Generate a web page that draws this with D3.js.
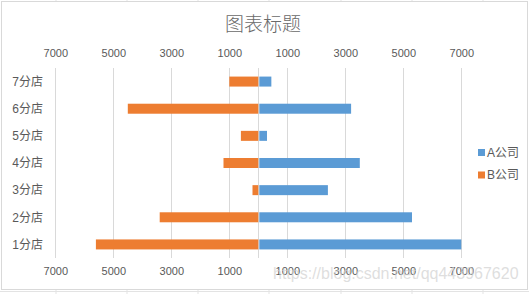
<!DOCTYPE html>
<html>
<head>
<meta charset="utf-8">
<script src="https://cdn.jsdelivr.net/npm/d3@7"></script>
<style>
  html, body { margin: 0; padding: 0; background: #fff; }
  svg { display: block; font-family: "Liberation Sans", "Noto Sans CJK SC", sans-serif; }
</style>
</head>
<body>
<script>
"use strict"

const stores = ['1分店', '2分店', '3分店', '4分店', '5分店', '6分店', '7分店']
const companyA = [7000, 5300, 2400, 3500, 300, 3200, 450]
const companyB = [5600, 3400, 200, 1200, 600, 4500, 1000]
const seriesNames = ['A公司', 'B公司']
const tickVals = [-7000, -5000, -3000, -1000, 1000, 3000, 5000, 7000]
const title = '图表标题'

const w = 529, h = 294
const colA = '#5b9bd5', colB = '#ed7d31'
const txt = '#595959'

const svg = d3.select('body')
   .append('svg')
      .attr('width', w)
      .attr('height', h)

// spreadsheet cell lines behind the chart
;[56, 127, 198, 269, 341, 412, 483].forEach(x => {
   svg.append('line').attr('x1', x).attr('x2', x).attr('y1', 0).attr('y2', h)
      .attr('stroke', '#e3e3e3')
})
svg.append('line').attr('x1', 0).attr('x2', w).attr('y1', 291.5).attr('y2', 291.5).attr('stroke', '#e3e3e3')

// chart area
svg.append('rect')
   .attr('x', 1.5).attr('y', 1.5)
   .attr('width', 526).attr('height', 288)
   .attr('fill', '#fff')
   .attr('stroke', '#d9d9d9')

svg.append('text')
   .attr('x', 263).attr('y', 31)
   .attr('text-anchor', 'middle')
   .attr('font-size', 19)
   .attr('font-weight', 300)
   .attr('fill', '#6a6a6a')
   .text(title)

const x = d3.scaleLinear([-7000, 7000], [55.3, 461.3])
const y = d3.scaleBand(stores.slice().reverse(), [68, 258])
const barH = 10

// gridlines incl. zero line
svg.append('g')
   .selectAll('line')
   .data(tickVals.concat([0]))
   .join('line')
      .attr('x1', d => Math.round(x(d)) + 0.5)
      .attr('x2', d => Math.round(x(d)) + 0.5)
      .attr('y1', 68)
      .attr('y2', 258)
      .attr('stroke', '#d9d9d9')

const fmt = d => Math.abs(d)

const topAxis = svg.append('g')
   .attr('transform', 'translate(0, 57)')
   .call(d3.axisTop(x).tickValues(tickVals).tickFormat(fmt).tickSize(0).tickPadding(0))
const botAxis = svg.append('g')
   .attr('transform', 'translate(0, 267)')
   .call(d3.axisBottom(x).tickValues(tickVals).tickFormat(fmt).tickSize(0).tickPadding(0))
;[topAxis, botAxis].forEach(g => {
   g.select('.domain').remove()
   g.selectAll('text').attr('font-size', 11).attr('fill', txt)
      .attr('font-family', '"Liberation Sans", sans-serif')
})

// category labels
svg.append('g')
   .selectAll('text')
   .data(stores)
   .join('text')
      .attr('x', 43)
      .attr('y', d => y(d) + y.bandwidth() / 2)
      .attr('dy', '0.36em')
      .attr('text-anchor', 'end')
      .attr('font-size', 12)
      .attr('fill', txt)
      .text(d => d)

// bars
svg.append('g')
   .selectAll('rect')
   .data(stores)
   .join('rect')
      .attr('x', (d, i) => x(-companyB[i]))
      .attr('width', (d, i) => x(0) - x(-companyB[i]))
      .attr('y', d => y(d) + (y.bandwidth() - barH) / 2)
      .attr('height', barH)
      .attr('fill', colB)

svg.append('g')
   .selectAll('rect')
   .data(stores)
   .join('rect')
      .attr('x', x(0) + 1)
      .attr('width', (d, i) => x(companyA[i]) - x(0) - 1)
      .attr('y', d => y(d) + (y.bandwidth() - barH) / 2)
      .attr('height', barH)
      .attr('fill', colA)

// legend
const legend = svg.append('g')
   .selectAll('g')
   .data(seriesNames)
   .join('g')
      .attr('transform', (d, i) => `translate(478, ${149 + i * 22.5})`)
legend.append('rect')
   .attr('width', 7).attr('height', 7)
   .attr('fill', (d, i) => i === 0 ? colA : colB)
legend.append('text')
   .attr('x', 9).attr('y', 3.5)
   .attr('dy', '0.36em')
   .attr('font-size', 12)
   .attr('fill', txt)
   .text(d => d)

// watermark (present in the reference image)
svg.append('text')
   .attr('x', 273).attr('y', 279)
   .attr('font-size', 16)
   .attr('fill', '#d0d0d0')
   .attr('fill-opacity', 0.7)
   .text('https://blog.csdn.net/qq443967620')
</script>
</body>
</html>
